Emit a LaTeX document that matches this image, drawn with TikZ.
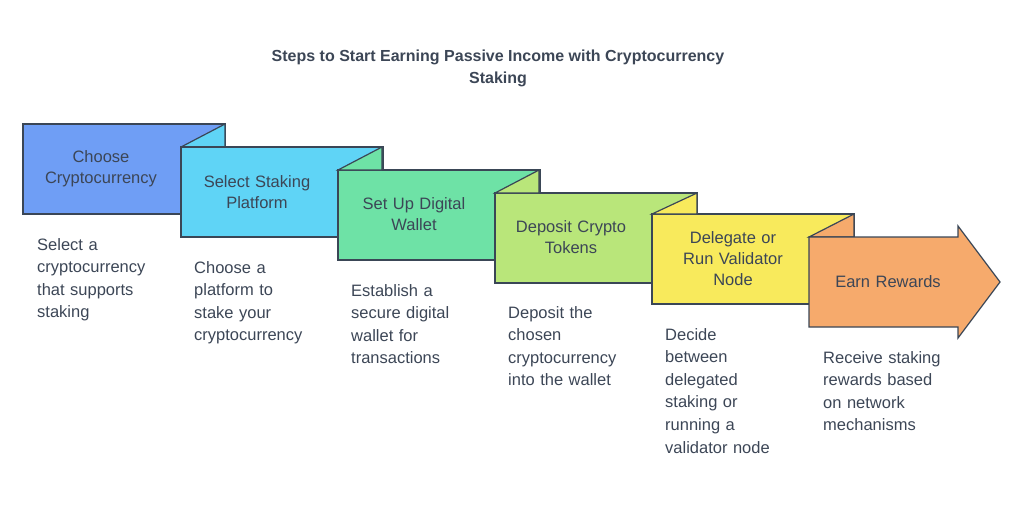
\documentclass[tikz,border=0pt]{standalone}
\usepackage{fontspec}
\setmainfont{Liberation Sans}
\begin{document}
\definecolor{c1}{HTML}{6F9EF5}
\definecolor{c2}{HTML}{5FD4F6}
\definecolor{c3}{HTML}{6EE2A6}
\definecolor{c4}{HTML}{B9E67A}
\definecolor{c5}{HTML}{F8EA5C}
\definecolor{c6}{HTML}{F6AA6C}
\definecolor{edge}{HTML}{3A4656}
\definecolor{txt}{HTML}{3C4656}
\begin{tikzpicture}[x=1pt,y=-1pt,
  shp/.style={draw=edge,line width=1.2pt,line join=miter},
  lbl/.style={align=center,text width=150pt,font=\fontsize{16.5}{21}\selectfont,text=txt},
  desc/.style={anchor=north west,align=left,text width=140pt,inner sep=0pt,font=\fontsize{16.5}{22.6}\selectfont,text=txt},
  ttl/.style={align=center,font=\bfseries\fontsize{16}{22}\selectfont,text=txt}]
\useasboundingbox (0,0) rectangle (1024,507);
\node[ttl] (title) at (498,68) {Steps to Start Earning Passive Income with Cryptocurrency\\Staking};
% boxes
\foreach \i/\x/\y/\c in {1/23/124/c1,2/181/147/c2,3/338/170/c3,4/495/193/c4,5/652/214/c5}{
  \fill[\c] (\x,\y) rectangle ++(202,90);
  \draw[shp] (\x,\y) rectangle ++(202,90);
}
% folds
\foreach \x/\y/\nx/\ny/\c in {23/124/181/147/c2,181/147/338/170/c3,338/170/495/193/c4,495/193/652/214/c5,652/214/809/237/c6}{
  \filldraw[shp,fill=\c] (\nx,\ny) -- (\x+202,\y) -- (\x+202,\ny);
}
% redraw boxes on top in order
\foreach \x/\y/\c/\nx/\ny/\nc in {181/147/c2/338/170/c3,338/170/c3/495/193/c4,495/193/c4/652/214/c5,652/214/c5/809/237/c6}{
}
\filldraw[shp,fill=c2] (181,147) rectangle ++(202,90);
\filldraw[shp,fill=c3] (338,170) rectangle ++(202,90);
\filldraw[shp,fill=c4] (495,193) rectangle ++(202,90);
\filldraw[shp,fill=c5] (652,214) rectangle ++(202,90);
\filldraw[shp,fill=c3] (338,170) -- (382,147) -- (382,170) -- cycle;
\filldraw[shp,fill=c4] (495,193) -- (539,170) -- (539,193) -- cycle;
\filldraw[shp,fill=c5] (652,214) -- (697,193) -- (697,214) -- cycle;
\filldraw[shp,fill=c6] (809,237) -- (854,214) -- (854,237) -- cycle;
\filldraw[shp,fill=c6] (809,237) -- (958,237) -- (958,226) -- (1000,282) -- (958,338) -- (958,327) -- (809,327) -- cycle;
% labels
\node[lbl] (b1) at (101,169) {Choose\\Cryptocurrency};
\node[lbl] (b2) at (257,192) {Select Staking\\Platform};
\node[lbl] (b3) at (414,214) {Set Up Digital\\Wallet};
\node[lbl] (b4) at (571,237) {Deposit Crypto\\Tokens};
\node[lbl] (b5) at (733,259) {Delegate or\\Run Validator\\Node};
\node[lbl] (b6) at (888,282) {Earn Rewards};
% descriptions
\node[desc] (d1) at (37,238) {Select a\\cryptocurrency\\that supports\\staking};
\node[desc] (d2) at (194,261) {Choose a\\platform to\\stake your\\cryptocurrency};
\node[desc] (d3) at (351,284) {Establish a\\secure digital\\wallet for\\transactions};
\node[desc] (d4) at (508,306) {Deposit the\\chosen\\cryptocurrency\\into the wallet};
\node[desc] (d5) at (665,328) {Decide\\between\\delegated\\staking or\\running a\\validator node};
\node[desc] (d6) at (823,351) {Receive staking\\rewards based\\on network\\mechanisms};
\end{tikzpicture}
\end{document}
